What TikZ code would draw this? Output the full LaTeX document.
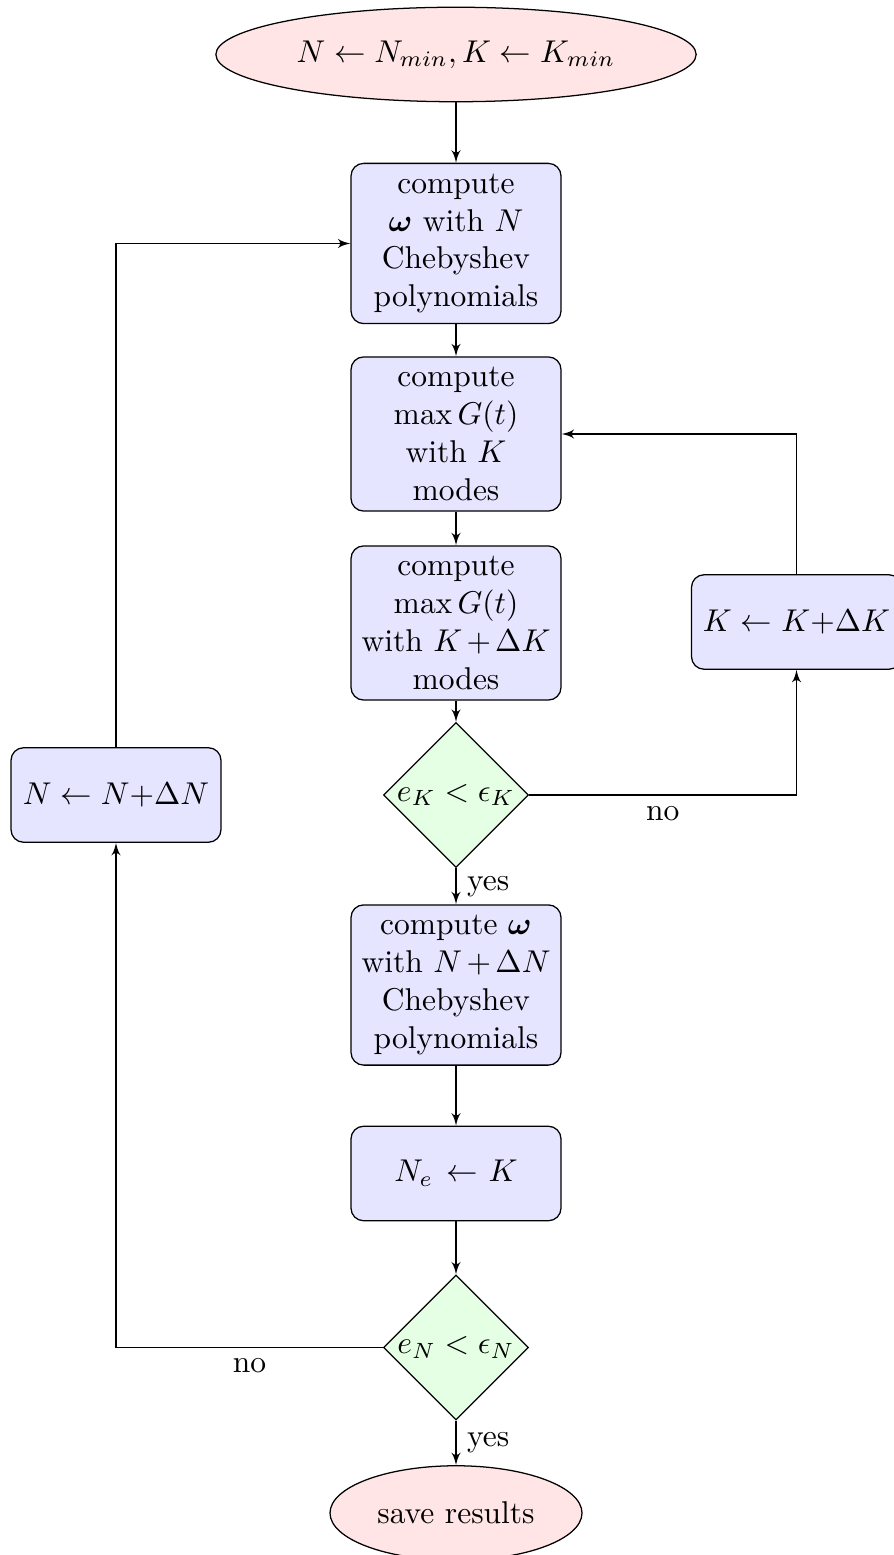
\documentclass[tikz,border=0pt]{standalone}
\usepackage{amsmath}
\usetikzlibrary{shapes.geometric,arrows}
\begin{document}
\begin{tikzpicture}[x=0.31746pt,y=-0.31746pt,
  block/.style={rectangle, draw, fill=blue!10, text width=60pt, align=center, rounded corners, minimum height=30pt, inner sep=3.333pt},
  decision/.style={diamond, draw, fill=green!10, aspect=1, inner sep=0pt, minimum width=46pt, minimum height=46pt},
  cloud/.style={ellipse, draw, fill=red!10, minimum height=30pt},
  line/.style={draw, -latex'}]
\useasboundingbox (0,0) rectangle (893,1555);
\node[cloud] (init) at (456,54.5) {$N \leftarrow N_{min}, K \leftarrow K_{min}$};
\node[block] (b1) at (456,243.5) {compute\\ $\boldsymbol{\omega}$ with $N$\\ Chebyshev\\ polynomials};
\node[block] (b2) at (456,434) {compute\\ $\max G(t)$\\ with $K$\\ modes};
\node[block] (b3) at (456,623) {compute\\ $\max G(t)$\\ with $K+\Delta K$\\ modes};
\node[decision] (d1) at (456,795) {$e_K < \epsilon_K$};
\node[block] (rb) at (796.5,622) {$K \leftarrow K{+}\Delta K$};
\node[block] (lb) at (116,795) {$N \leftarrow N{+}\Delta N$};
\node[block] (b4) at (456,985) {compute $\boldsymbol{\omega}$\\ with $N+\Delta N$\\ Chebyshev\\ polynomials};
\node[block] (ne) at (456,1173.5) {$N_e \leftarrow$ $K$};
\node[decision] (d2) at (456,1347.5) {$e_N < \epsilon_N$};
\node[cloud] (stop) at (456,1513) {save results};
\path[line] (init) -- (b1);
\path[line] (b1) -- (b2);
\path[line] (b2) -- (b3);
\path[line] (b3) -- (d1);
\path[line] (d1) -| node[near start, below] {no} (rb);
\path[line] (rb) |- (b2);
\path[line] (d1) -- node[right] {yes} (b4);
\path[line] (b4) -- (ne);
\path[line] (ne) -- (d2);
\path[line] (d2) -| node[near start, below] {no} (lb);
\path[line] (lb) |- (b1);
\path[line] (d2) -- node[right] {yes} (stop);
\end{tikzpicture}
\end{document}
